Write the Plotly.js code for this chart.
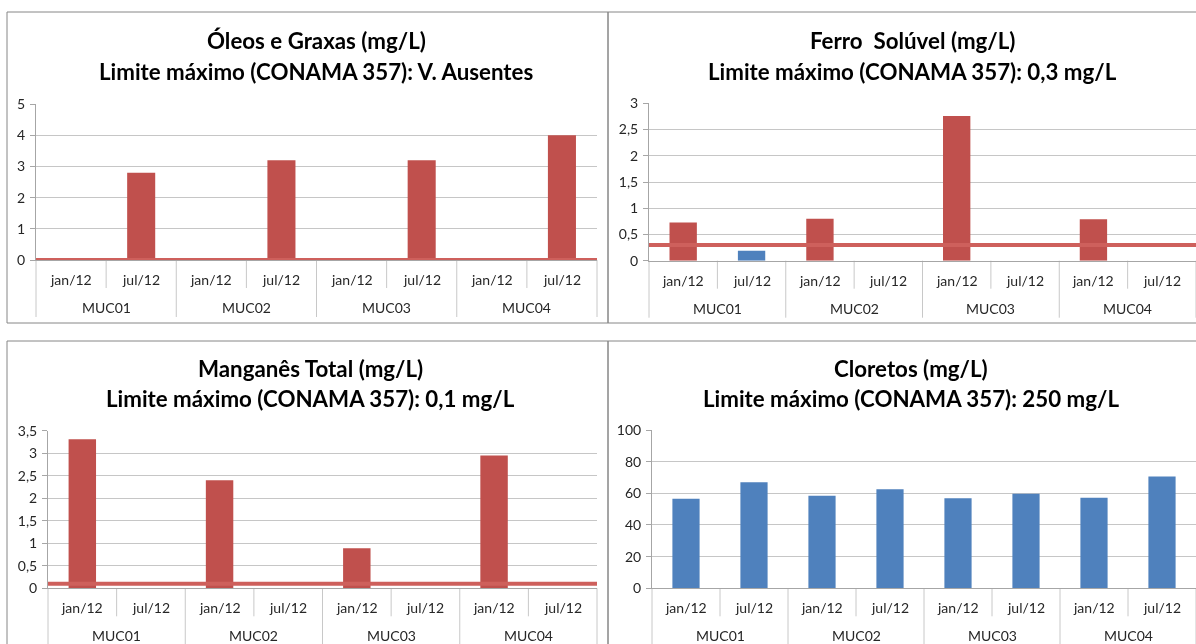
<!DOCTYPE html>
<html>
<head>
<meta charset="utf-8">
<script src="https://cdn.plot.ly/plotly-3.0.1.min.js"></script>
<style>
  html, body { margin: 0; padding: 0; background: #ffffff; }
  #chart { width: 1196px; height: 644px; }
  /* limit lines darken the bars they cross */
  #chart .scatterlayer path.js-line { mix-blend-mode: multiply; }
</style>
</head>
<body>
<div id="chart"></div>
<script>
// Sampling points and campaigns
const stations = ['MUC01', 'MUC02', 'MUC03', 'MUC04'];
const campaigns = ['jan/12', 'jul/12'];

// Results per station/campaign (mg/L), in the order MUC01 jan, MUC01 jul, MUC02 jan, ...
const oleosGraxas   = [null, 2.8, null, 3.2, null, 3.2, null, 4.0];
const ferroSoluvel  = [0.73, 0.19, 0.80, null, 2.76, null, 0.79, null];
const manganesTotal = [3.31, null, 2.40, null, 0.89, null, 2.95, null];
const cloretos      = [56.5, 67.0, 58.5, 62.5, 56.9, 59.8, 57.2, 70.7];

// CONAMA 357 maximum limits (mg/L)
const limOleos = 0;
const limFerro = 0.3;
const limManganes = 0.1;
const limCloretos = 250;

// Chart titles
const titleLines = [
  ['Óleos e Graxas (mg/L)', 'Limite máximo (CONAMA 357): V. Ausentes'],
  ['Ferro  Solúvel (mg/L)', 'Limite máximo (CONAMA 357): 0,3 mg/L'],
  ['Manganês Total (mg/L)', 'Limite máximo (CONAMA 357): 0,1 mg/L'],
  ['Cloretos (mg/L)', 'Limite máximo (CONAMA 357): 250 mg/L']
];

// ---- page geometry (pixels) ----
const W = 1196, H = 644;
const px = v => v / W;
const py = v => 1 - v / H;

const RED = '#C0504D';
const BLUE = '#4F81BD';
const LIMIT_COLOR = 'rgb(206,96,92)';
const FONT = 'Lato, "Open Sans", sans-serif';
const TXT = '#262626';
const AXIS = '#A6A6A6';
const GRID = '#C6C6C6';
const DIV = '#C8C8C8';
const TICK_SIZE = 14;

const panels = [
  { values: oleosGraxas,   limit: limOleos,    yMax: 5,   dtick: 1,   plot: [36, 597, 104, 260],       title: [316, 41, 71] },
  { values: ferroSoluvel,  limit: limFerro,    yMax: 3,   dtick: 0.5, plot: [649, 1196, 103.3, 260.7], title: [912, 41, 71] },
  { values: manganesTotal, limit: limManganes, yMax: 3.5, dtick: 0.5, plot: [48, 597, 430.7, 588.3],   title: [310, 368, 398] },
  { values: cloretos,      limit: limCloretos, yMax: 100, dtick: 20,  plot: [652, 1196, 430, 588.3],   title: [911, 368, 398] }
];

// two-level category axis
const groupLevel = [], campaignLevel = [];
stations.forEach(s => campaigns.forEach(c => { groupLevel.push(s); campaignLevel.push(c); }));
const nCat = groupLevel.length;

const data = [];
const layout = {
  width: W, height: H,
  margin: { l: 0, r: 0, t: 0, b: 0 },
  paper_bgcolor: '#ffffff', plot_bgcolor: '#ffffff',
  showlegend: false,
  bargap: 0.6,
  separators: ',.',
  font: { family: FONT, color: TXT, size: TICK_SIZE },
  shapes: [],
  annotations: []
};

// panel frames
const frames = [
  [7, 608, 12, 323],
  [608, 1210, 12, 323],
  [7, 608, 341, 660],
  [608, 1210, 341, 660]
];
frames.forEach(f => {
  layout.shapes.push({
    type: 'rect', xref: 'paper', yref: 'paper',
    x0: px(f[0]), x1: px(f[1]), y0: py(f[3]), y1: py(f[2]),
    line: { color: '#868686', width: 1 }, fillcolor: 'rgba(0,0,0,0)', layer: 'below'
  });
});

panels.forEach((p, i) => {
  const n = i + 1;
  const xs = n === 1 ? '' : String(n);
  const xId = 'x' + xs, yId = 'y' + xs;
  const ovId = 'x' + (n + 4);
  const [xl, xr, yt, yb] = p.plot;
  const plotH = yb - yt;

  data.push({
    type: 'bar',
    x: [groupLevel, campaignLevel],
    y: p.values,
    xaxis: xId, yaxis: yId,
    marker: {
      color: p.values.map(v => (v !== null && v > p.limit) ? RED : BLUE),
      line: { width: 0 }
    },
    hoverinfo: 'skip'
  });

  // horizontal limit line across the whole plot width
  if (p.limit <= p.yMax) {
    data.push({
      type: 'scatter', mode: 'lines',
      x: [0, 1], y: [p.limit, p.limit],
      xaxis: ovId, yaxis: yId,
      line: { color: LIMIT_COLOR, width: 4 },
      cliponaxis: false,
      hoverinfo: 'skip'
    });
  }

  layout['xaxis' + xs] = {
    type: 'multicategory',
    domain: [px(xl), px(xr)],
    anchor: yId,
    showgrid: false,
    showline: true, linecolor: AXIS, linewidth: 1,
    ticks: '', showticklabels: false, showdividers: false,
    fixedrange: true
  };
  layout['xaxis' + (n + 4)] = {
    overlaying: xId, anchor: yId,
    range: [0, 1], visible: false, fixedrange: true
  };
  layout['yaxis' + xs] = {
    domain: [py(yb), py(yt)],
    anchor: xId,
    range: [0, p.yMax], tick0: 0, dtick: p.dtick,
    showgrid: true, gridcolor: GRID, gridwidth: 1,
    zeroline: false,
    showline: true, linecolor: AXIS, linewidth: 1,
    ticks: 'outside', ticklen: 5, tickcolor: AXIS,
    ticklabelstandoff: 2,
    tickfont: { family: FONT, size: TICK_SIZE, color: TXT },
    fixedrange: true
  };

  // category boundaries: short between campaigns, long between stations
  const shortDepth = 28 / plotH, longDepth = 57 / plotH;
  for (let k = 0; k <= nCat; k++) {
    layout.shapes.push({
      type: 'line', xref: xId + ' domain', yref: yId + ' domain',
      x0: k / nCat, x1: k / nCat, y0: 0, y1: -(k % 2 === 0 ? longDepth : shortDepth),
      line: { color: DIV, width: 1 }, layer: 'below'
    });
  }

  // campaign labels (first level) and station labels (second level)
  campaignLevel.forEach((c, k) => {
    layout.annotations.push({
      xref: xId + ' domain', yref: yId + ' domain',
      x: (k + 0.5) / nCat, y: -19.5 / plotH,
      xanchor: 'center', yanchor: 'middle',
      text: c, showarrow: false,
      font: { family: FONT, size: TICK_SIZE, color: TXT }
    });
  });
  stations.forEach((s, g) => {
    layout.annotations.push({
      xref: xId + ' domain', yref: yId + ' domain',
      x: (2 * g + 1) / nCat, y: -47.5 / plotH,
      xanchor: 'center', yanchor: 'middle',
      text: s, showarrow: false,
      font: { family: FONT, size: TICK_SIZE, color: TXT }
    });
  });

  // two-line bold title
  const [tx, ty1, ty2] = p.title;
  [ty1, ty2].forEach((ty, j) => {
    layout.annotations.push({
      xref: 'paper', yref: 'paper',
      x: px(tx), y: py(ty), xanchor: 'center', yanchor: 'middle',
      text: '<b>' + titleLines[i][j] + '</b>',
      showarrow: false,
      font: { family: FONT, size: 22.3, color: '#000000' }
    });
  });
});

Plotly.newPlot('chart', data, layout, { displayModeBar: false, staticPlot: true });
</script>
</body>
</html>
